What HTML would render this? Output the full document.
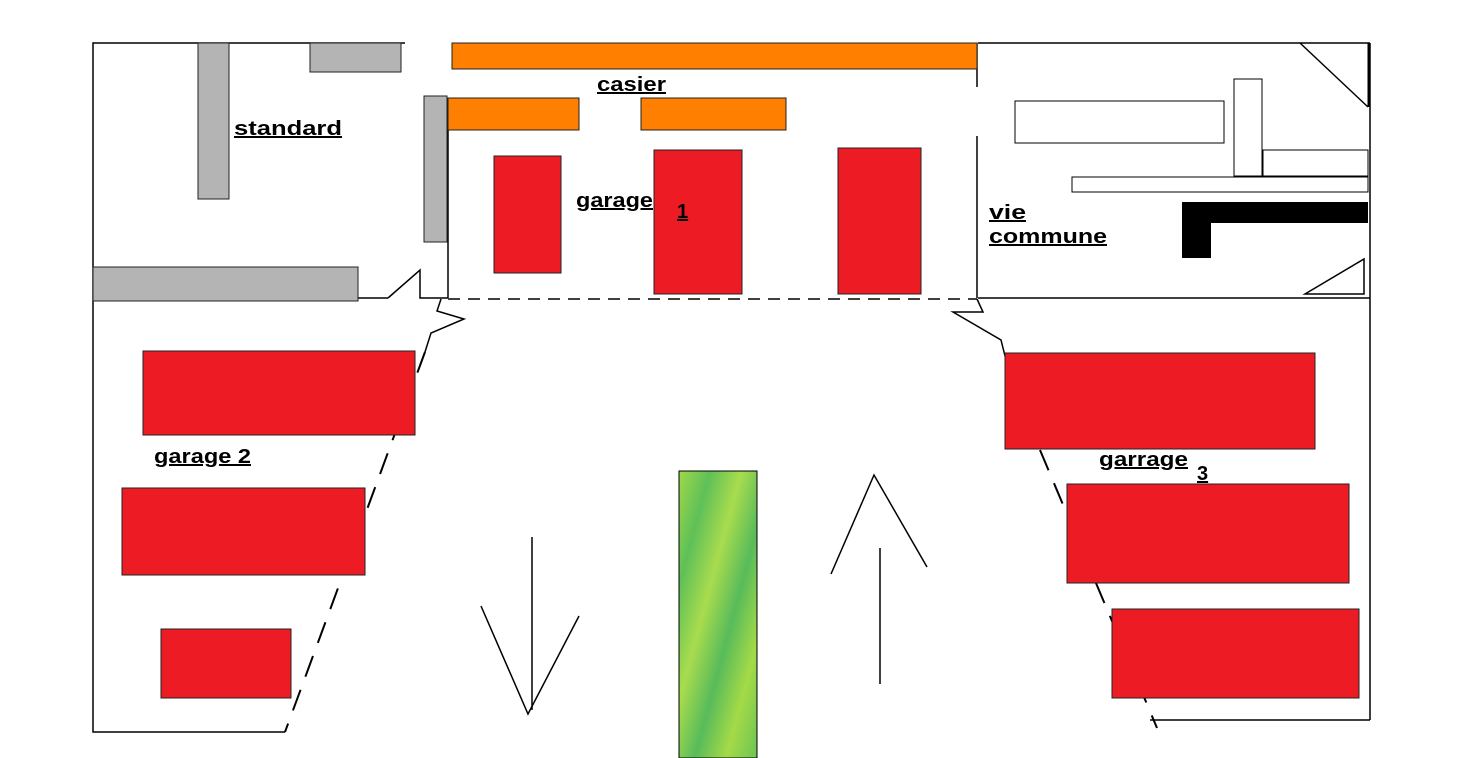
<!DOCTYPE html>
<html><head><meta charset="utf-8"><style>
html,body{margin:0;padding:0;background:#fff;width:1482px;height:758px;overflow:hidden}
svg{display:block}
text{font-family:"Liberation Sans",sans-serif;font-weight:bold;font-size:20px;fill:#000;text-decoration:underline}
</style></head><body>
<svg width="1482" height="758" viewBox="0 0 1482 758" xmlns="http://www.w3.org/2000/svg">
<defs>
<linearGradient id="g1" x1="0" y1="0" x2="1" y2="1">
<stop offset="0" stop-color="#9fd84a"/><stop offset="0.2" stop-color="#5fc058"/>
<stop offset="0.4" stop-color="#a9dc4e"/><stop offset="0.6" stop-color="#58bb5a"/>
<stop offset="0.8" stop-color="#a4da48"/><stop offset="1" stop-color="#6cc454"/>
</linearGradient>
</defs>
<g stroke="#000" stroke-width="1.5" fill="none">
<polyline points="405,43 93,43 93,732 285,732"/>
<line x1="978" y1="43" x2="1370" y2="43"/>
<line x1="1370" y1="43" x2="1370" y2="720"/>
<line x1="1150" y1="720" x2="1370" y2="720"/>
<line x1="93" y1="298" x2="388" y2="298"/>
<polyline points="388,298 420,270 420,298 448,298"/>
<line x1="978" y1="298" x2="1370" y2="298"/>
<line x1="448" y1="98" x2="448" y2="298"/>
<line x1="977" y1="43" x2="977" y2="87"/>
<line x1="977" y1="136" x2="977" y2="298"/>
<line x1="448" y1="299" x2="977" y2="299" stroke-dasharray="12,8"/>
<polyline points="441,299 437,311 464,319 431,333 425,352"/>
<polyline points="977,299 983,312 953,312 1001,340 1006,360"/>
<line x1="425" y1="352" x2="285" y2="732" stroke-dasharray="22,14" stroke-width="2"/>
<line x1="1040" y1="450" x2="1157" y2="728" stroke-dasharray="22,14" stroke-width="2"/>
<line x1="1300" y1="43" x2="1368" y2="107"/>
<line x1="1369" y1="43" x2="1369" y2="107" stroke-width="3"/>
<polygon points="1305,294 1364,259 1364,294"/>
<line x1="532" y1="537" x2="532" y2="710"/>
<polyline points="481,606 528,714 579,616"/>
<line x1="880" y1="548" x2="880" y2="684"/>
<polyline points="831,574 874,475 927,567"/>
</g>
<g stroke="#222" stroke-width="1">
<rect x="198" y="43" width="31" height="156" fill="#b4b4b4"/>
<rect x="310" y="43" width="91" height="29" fill="#b4b4b4"/>
<rect x="424" y="96" width="23" height="146" fill="#b4b4b4"/>
<rect x="93" y="267" width="265" height="34" fill="#b4b4b4"/>
<rect x="452" y="43" width="525" height="26" fill="#ff7f00"/>
<rect x="448" y="98" width="131" height="32" fill="#ff7f00"/>
<rect x="641" y="98" width="145" height="32" fill="#ff7f00"/>
<g fill="#ed1c24">
<rect x="494" y="156" width="67" height="117"/>
<rect x="654" y="150" width="88" height="144"/>
<rect x="838" y="148" width="83" height="146"/>
<rect x="143" y="351" width="272" height="84"/>
<rect x="122" y="488" width="243" height="87"/>
<rect x="161" y="629" width="130" height="69"/>
<rect x="1005" y="353" width="310" height="96"/>
<rect x="1067" y="484" width="282" height="99"/>
<rect x="1112" y="609" width="247" height="89"/>
</g>
<g fill="#fff" stroke="#000">
<rect x="1015" y="101" width="209" height="42"/>
<rect x="1234" y="79" width="28" height="97"/>
<rect x="1263" y="150" width="105" height="26"/>
<rect x="1072" y="177" width="296" height="15"/>
</g>
<g fill="#000" stroke="none">
<rect x="1182" y="202" width="186" height="21"/>
<rect x="1182" y="202" width="29" height="56"/>
</g>
<rect x="679" y="471" width="78" height="287" fill="url(#g1)" stroke="#000"/>
</g>
<text x="234" y="135" textLength="108" lengthAdjust="spacingAndGlyphs">standard</text>
<text x="597" y="91" textLength="69" lengthAdjust="spacingAndGlyphs">casier</text>
<text x="576" y="207" textLength="77" lengthAdjust="spacingAndGlyphs">garage</text>
<text x="677" y="218">1</text>
<text x="989" y="219" textLength="37" lengthAdjust="spacingAndGlyphs">vie</text>
<text x="989" y="243" textLength="118" lengthAdjust="spacingAndGlyphs">commune</text>
<text x="154" y="463" textLength="97" lengthAdjust="spacingAndGlyphs">garage 2</text>
<text x="1099" y="466" textLength="89" lengthAdjust="spacingAndGlyphs">garrage</text>
<text x="1197" y="480">3</text>
</svg>
</body></html>
